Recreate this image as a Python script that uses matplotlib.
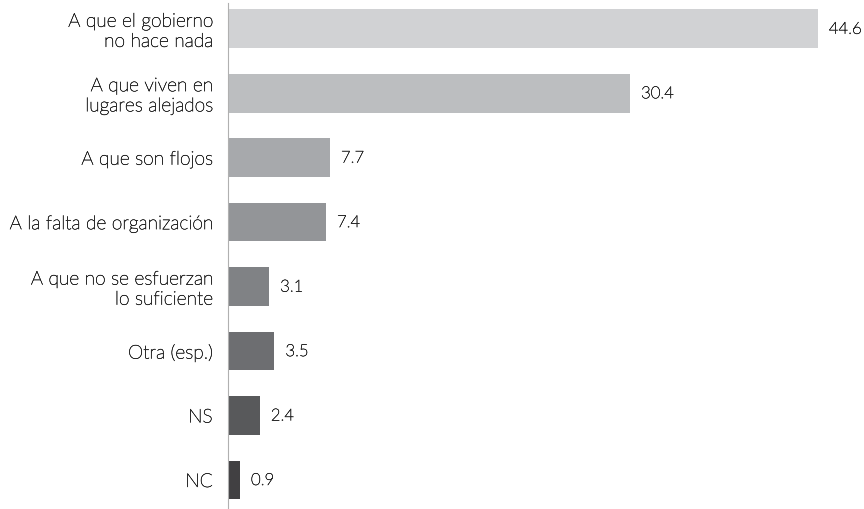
import matplotlib
matplotlib.use("Agg")
import matplotlib.pyplot as plt
import matplotlib.patheffects as pe

categories = [
    "A que el gobierno\nno hace nada",
    "A que viven en\nlugares alejados",
    "A que son flojos",
    "A la falta de organización",
    "A que no se esfuerzan\nlo suficiente",
    "Otra (esp.)",
    "NS",
    "NC",
]
values = [44.6, 30.4, 7.7, 7.4, 3.1, 3.5, 2.4, 0.9]
value_labels = ["44.6", "30.4", "7.7", "7.4", "3.1", "3.5", "2.4", "0.9"]
colors = ["#d1d2d4", "#bcbec0", "#a7a9ac", "#939598",
          "#808285", "#6d6e71", "#58595b", "#414042"]

plt.rcParams["font.family"] = ["Lato", "DejaVu Sans"]
TEXT = "#2a2a2a"
# slightly heavier than Lato Light on its own
thicken = [pe.withStroke(linewidth=0.35, foreground=TEXT)]

fig = plt.figure(figsize=(8.64, 5.10), dpi=100)
ax = fig.add_axes([228 / 864, 0.0, 1 - 228 / 864, 1 - 4 / 510])

ypos = list(range(len(values)))
ax.barh(ypos, values, height=0.6, color=colors, edgecolor="none")

for y, v, lab in zip(ypos, values, value_labels):
    ax.annotate(lab, (v, y), xytext=(8, 0), textcoords="offset points",
                va="center", ha="left", fontsize=12, color=TEXT,
                fontweight="light", path_effects=thicken)

ax.set_yticks(ypos)
ax.set_yticklabels(categories, fontsize=13.8, color=TEXT,
                   fontweight="light", linespacing=1.15)
for t in ax.get_yticklabels():
    t.set_path_effects(thicken)
ax.tick_params(axis="y", length=0, pad=11)
ax.set_xticks([])
ax.set_xlim(0, 48.1)
ax.set_ylim(7.45, -0.4)

for side in ("top", "right", "bottom"):
    ax.spines[side].set_visible(False)
ax.spines["left"].set_color("#b0b0b0")
ax.spines["left"].set_linewidth(0.8)

fig.savefig("out.png", dpi=100)
